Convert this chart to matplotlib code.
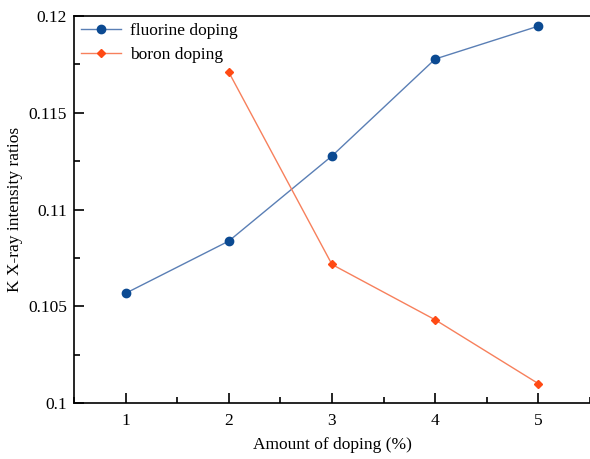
import matplotlib.pyplot as plt
from matplotlib.ticker import MultipleLocator

plt.rcParams['font.family'] = ['Liberation Serif', 'DejaVu Serif']

doping = [1, 2, 3, 4, 5]
fluorine = [0.10567, 0.10837, 0.11277, 0.11778, 0.11948]
boron_x = [2, 3, 4, 5]
boron = [0.11710, 0.10716, 0.10430, 0.10100]

fig = plt.figure(figsize=(5.90, 4.59), dpi=100)
ax = fig.add_axes([0.1254, 0.122, 0.8746, 0.843])

ax.plot(doping, fluorine, color='#5a7fb5', linewidth=1, marker='o',
        markersize=6, markerfacecolor='#0b4a92', markeredgecolor='#0b4a92',
        label='fluorine doping')
ax.plot(boron_x, boron, color='#f7805c', linewidth=1, marker='D',
        markersize=4.5, markerfacecolor='#ff4a14', markeredgecolor='#ff4a14',
        label='boron doping')

ax.set_xlim(0.5, 5.5)
ax.set_ylim(0.1, 0.12)
ax.xaxis.set_major_locator(MultipleLocator(1))
ax.xaxis.set_minor_locator(MultipleLocator(0.5))
ax.yaxis.set_minor_locator(MultipleLocator(0.0025))
ax.set_yticks([0.1, 0.105, 0.11, 0.115, 0.12])
ax.set_yticklabels(['0.1', '0.105', '0.11', '0.115', '0.12'])

ax.tick_params(which='both', direction='in', top=False, right=False,
               labelsize=12.5, width=1.2)
ax.tick_params(which='major', length=7, pad=5)
ax.tick_params(which='minor', length=4)
ax.tick_params(axis='x', which='major', pad=7)
ax.spines['right'].set_visible(False)
for s in ['left', 'bottom', 'top']:
    ax.spines[s].set_linewidth(1.2)

ax.set_xlabel('Amount of doping (%)', fontsize=12.5, labelpad=6)
ax.set_ylabel('K X-ray intensity ratios', fontsize=12.5, labelpad=4)

ax.legend(loc='upper left', frameon=False, fontsize=12.5, handlelength=2.3,
          handletextpad=0.5, borderaxespad=0.1, borderpad=0.3,
          labelspacing=0.45)

fig.savefig('out.png', dpi=100)
